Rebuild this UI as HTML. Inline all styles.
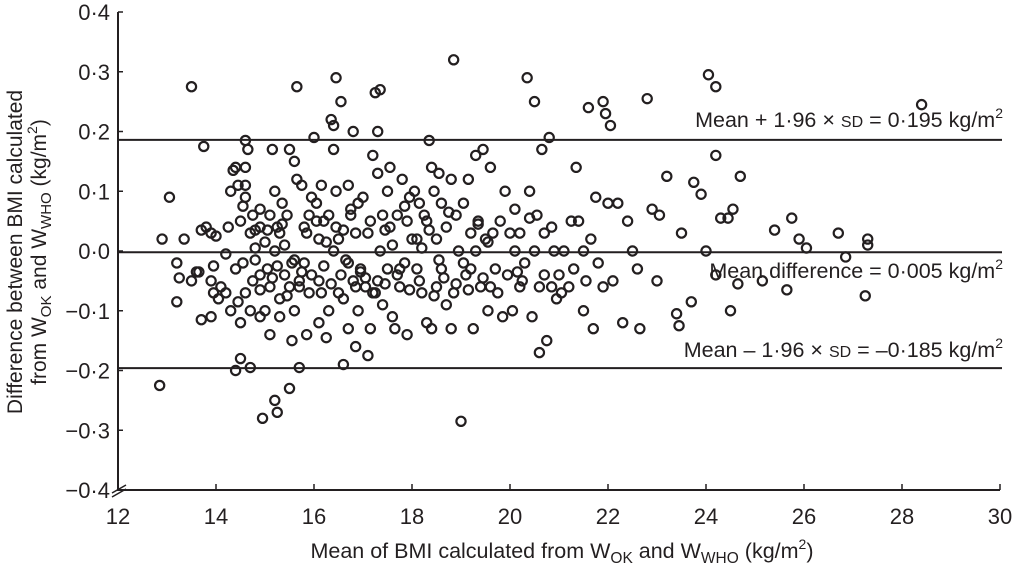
<!DOCTYPE html>
<html><head><meta charset="utf-8"><style>
body{margin:0;background:#fff}
svg{display:block;font-family:"Liberation Sans",Arial,sans-serif;fill:#231f20}
</style></head><body>
<svg id="chart" width="1013" height="575" viewBox="0 0 1013 575" xmlns="http://www.w3.org/2000/svg">
<g id="axes"></g>
<g id="lines"></g>
<g id="points"></g>
<g font-size="21.5" text-anchor="end">
<text x="1003" y="127">Mean + 1·96 × <tspan font-size="16">SD</tspan> = 0·195 kg/m<tspan font-size="14" dy="-9">2</tspan></text>
<text x="1003" y="278">Mean difference = 0·005 kg/m<tspan font-size="14" dy="-9">2</tspan></text>
<text x="1003" y="357">Mean – 1·96 × <tspan font-size="16">SD</tspan> = –0·185 kg/m<tspan font-size="14" dy="-9">2</tspan></text>
</g>
<text x="562" y="558" font-size="21.5" text-anchor="middle">Mean of BMI calculated from W<tspan font-size="15.5" dy="5">OK</tspan><tspan dy="-5"> and W</tspan><tspan font-size="15.5" dy="5">WHO</tspan><tspan dy="-5"> (kg/m</tspan><tspan font-size="14" dy="-9">2</tspan><tspan dy="9">)</tspan></text>
<g transform="translate(22,252) rotate(-90)" font-size="21" text-anchor="middle">
<text x="0" y="0">Difference between BMI calculated</text>
<text x="0" y="24">from W<tspan font-size="15" dy="5">OK</tspan><tspan dy="-5"> and W</tspan><tspan font-size="15" dy="5">WHO</tspan><tspan dy="-5"> (kg/m</tspan><tspan font-size="14" dy="-9">2</tspan><tspan dy="9">)</tspan></text>
</g>
</svg>
<script>
const xTicks=[12,14,16,18,20,22,24,26,28,30];
const yTicks=[0.4,0.3,0.2,0.1,0.0,-0.1,-0.2,-0.3,-0.4];
const yTickLabels=["0·4","0·3","0·2","0·1","0·0","−0·1","−0·2","−0·3","−0·4"];
const refLines=[0.186,-0.002,-0.196];
const xs=[12.85,13.05,12.9,13.2,13.2,13.25,13.35,13.5,13.5,13.6,13.65,13.7,13.75,13.7,13.8,13.9,13.9,13.95,13.95,13.9,
14.0,14.05,14.1,14.2,14.25,14.2,14.3,14.3,14.35,14.4,14.4,14.45,14.5,14.5,14.55,14.6,14.65,14.6,14.6,14.7,14.6,14.7,14.5,14.55,14.6,14.7,14.8,14.4,14.45,14.75,14.8,14.9,14.9,14.95,14.9,14.9,14.8,
15.0,15.05,15.1,15.1,15.15,15.2,15.25,15.2,15.25,15.3,15.3,15.35,15.4,15.45,15.5,15.5,15.55,15.6,15.65,15.65,15.7,15.7,15.6,15.75,15.8,15.8,15.85,15.9,15.9,15.95,15.1,15.2,15.4,15.5,15.6,15.75,15.3,15.0,
16.0,16.05,16.1,16.1,16.1,16.15,16.2,16.2,16.3,16.35,16.4,16.4,16.45,16.45,16.5,16.5,16.55,16.6,16.6,16.65,16.7,16.7,16.75,16.8,16.8,16.85,16.9,16.9,16.95,16.3,16.55,16.25,16.85,16.7,16.4,
17.0,17.05,17.1,17.1,17.2,17.2,17.25,17.3,17.3,17.35,17.4,17.4,17.45,17.5,17.5,17.55,17.6,17.6,17.7,17.75,17.8,17.85,17.9,17.9,17.95,17.15,17.3,17.65,
18.0,18.05,18.1,18.15,18.2,18.25,18.3,18.35,18.4,18.4,18.45,18.5,18.5,18.55,18.6,18.7,18.7,18.8,18.85,18.85,18.9,18.95,19.0,18.2,18.6,18.3,18.8,
19.05,19.1,19.15,19.2,19.25,19.3,19.35,19.4,19.45,19.5,19.55,19.6,19.7,19.8,19.85,19.9,19.95,19.2,19.6,19.3,
20.0,20.05,20.1,20.2,20.3,20.35,20.4,20.45,20.5,20.55,20.6,20.65,20.7,20.75,20.8,20.85,20.9,20.95,20.2,20.5,20.7,20.1,
21.0,21.1,21.2,21.35,21.4,21.5,21.6,21.65,21.7,21.75,21.8,21.9,21.95,22.0,21.9,21.5,21.3,
22.05,22.1,22.2,22.3,22.4,22.5,22.6,22.65,22.8,22.9,23.0,
23.05,23.2,23.4,23.45,23.5,23.7,23.75,23.9,24.05,24.2,24.2,24.3,24.45,24.5,24.55,24.7,24.65,24.2,24.0,
25.15,25.4,25.65,25.75,25.9,26.05,26.7,26.85,27.25,27.3,27.3,28.4,
14.9,15.15,15.45,15.7,15.95,16.15,16.35,16.6,16.85,17.05,17.25,17.45,17.7,17.95,18.15,18.45,18.65,18.9,19.15,19.45,19.75,20.25,20.6,21.05,21.55,
14.75,15.05,15.35,15.85,16.05,16.45,16.75,17.15,17.55,17.85,18.35,18.75,19.35,19.65,20.4,20.85,21.25,
15.25,15.55,16.25,16.95,17.35,17.75,18.1,18.55,19.05,19.55,20.15];
const ys=[-0.225,0.09,0.02,-0.02,-0.085,-0.045,0.02,0.275,-0.05,-0.035,-0.035,-0.115,0.175,0.035,0.04,0.03,-0.11,-0.07,-0.025,-0.05,
0.025,-0.08,-0.06,-0.07,0.04,-0.005,-0.1,0.1,0.135,0.14,-0.2,0.11,-0.18,0.05,-0.02,0.185,0.17,0.14,0.09,-0.195,-0.07,-0.1,-0.12,0.075,0.11,0.03,0.035,-0.03,-0.085,-0.05,-0.015,-0.04,0.04,-0.28,0.07,-0.11,0.005,
0.015,-0.03,-0.06,0.06,0.17,-0.25,-0.27,0.1,0.04,-0.08,-0.11,0.08,-0.04,0.06,0.17,-0.23,-0.15,0.15,0.275,0.12,-0.195,-0.05,-0.1,0.11,0.04,-0.02,-0.14,0.06,-0.07,0.09,-0.14,0.0,0.01,-0.06,-0.015,-0.035,0.03,-0.1,
0.19,0.08,0.02,-0.05,-0.12,0.11,0.05,-0.025,-0.1,0.22,0.21,0.17,0.29,0.1,0.02,-0.07,0.25,-0.19,0.035,-0.015,0.11,-0.13,0.06,0.2,-0.05,0.03,0.08,-0.1,-0.03,0.06,-0.04,-0.145,-0.16,-0.02,0.0,
0.09,-0.06,-0.175,0.03,0.16,-0.07,0.265,0.2,0.13,0.27,0.06,-0.09,0.035,0.1,-0.03,0.14,0.01,-0.11,0.06,-0.06,0.12,-0.02,0.05,-0.14,0.09,-0.13,-0.05,-0.13,
0.02,0.1,-0.03,0.08,-0.07,0.06,-0.12,0.185,0.14,-0.13,0.1,0.02,-0.06,0.13,-0.03,0.04,-0.09,0.12,0.32,-0.07,0.06,0.0,-0.285,0.005,0.08,0.05,-0.13,
0.08,-0.04,0.12,0.03,-0.13,0.16,0.05,-0.06,0.17,0.02,-0.1,0.14,-0.03,0.05,-0.11,0.1,-0.04,-0.03,-0.06,0.0,
0.03,-0.1,0.07,0.03,-0.02,0.29,0.1,-0.11,0.25,0.06,-0.17,0.17,0.03,-0.15,0.19,-0.06,0.0,-0.08,-0.06,0.0,-0.04,0.0,
-0.04,0.0,-0.06,0.14,0.05,-0.1,0.24,0.02,-0.13,0.09,-0.02,0.25,0.23,0.08,-0.06,0.0,-0.03,
0.21,-0.05,0.08,-0.12,0.05,0.0,-0.03,-0.13,0.255,0.07,-0.05,
0.06,0.125,-0.105,-0.125,0.03,-0.085,0.115,0.095,0.295,0.275,0.16,0.055,0.055,-0.1,0.07,0.125,-0.055,-0.04,0.0,
-0.05,0.035,-0.065,0.055,0.02,0.005,0.03,-0.01,-0.075,0.01,0.02,0.245,
-0.065,-0.045,-0.075,-0.06,-0.04,-0.07,-0.055,-0.08,-0.06,-0.045,-0.07,-0.055,-0.04,-0.065,-0.05,-0.075,-0.045,-0.055,-0.065,-0.045,-0.07,-0.05,-0.06,-0.07,-0.05,
0.06,0.035,0.045,0.03,0.05,0.04,0.07,0.05,0.04,0.075,0.035,0.065,0.045,0.03,0.055,0.04,0.05,
-0.025,-0.02,0.015,-0.035,0.0,-0.03,0.02,-0.015,-0.02,0.015,-0.035];

const NS="http://www.w3.org/2000/svg";
const X0=118,X1=1000,Y0=490,Y1=12;
const sx=v=>X0+(v-12)/(30-12)*(X1-X0);
const sy=v=>Y0-(v+0.4)/0.8*(Y0-Y1);
function mk(tag,attrs,parent){const e=document.createElementNS(NS,tag);for(const k in attrs)e.setAttribute(k,attrs[k]);parent.appendChild(e);return e;}
const axes=document.getElementById('axes');
let a=mk('line',{x1:X0,y1:Y1,x2:X0,y2:Y0+1,stroke:'#231f20','stroke-width':2},axes);


a=mk('line',{x1:X0,y1:Y0,x2:X1,y2:Y0,stroke:'#231f20','stroke-width':2},axes);


a=mk('path',{d:`M${X0-6},${Y0+3} L${X0+8},${Y0-5} M${X0-6},${Y0+7} L${X0+8},${Y0-1}`,stroke:'#231f20','stroke-width':1.5,fill:'none'},axes);


xTicks.forEach(t=>{
 const l=mk('line',{x1:sx(t),y1:Y0,x2:sx(t),y2:Y0-6,stroke:'#231f20','stroke-width':1.5},axes);
 
 
 const tx=mk('text',{x:sx(t),y:Y0+34,'font-size':22,'text-anchor':'middle'},axes);
 tx.textContent=t;
 
 
});
yTicks.forEach((t,i)=>{
 const l=mk('line',{x1:X0,y1:sy(t),x2:X0+5,y2:sy(t),stroke:'#231f20','stroke-width':1.5},axes);
 
 
 const tx=mk('text',{x:X0-8,y:sy(t)+8,'font-size':22,'text-anchor':'end'},axes);
 tx.textContent=yTickLabels[i];
 
 
});
const lines=document.getElementById('lines');
refLines.forEach((v,i)=>{
 const l=mk('line',{x1:X0,y1:sy(v),x2:X1+2,y2:sy(v),stroke:'#231f20','stroke-width':2},lines);
 
 
});
const pts=document.getElementById('points');
xs.forEach((x,i)=>{
 const c=mk('circle',{cx:sx(x),cy:sy(ys[i]),r:4.6,fill:'none',stroke:'#231f20','stroke-width':2.2},pts);
 
 
});
</script>
</body></html>
